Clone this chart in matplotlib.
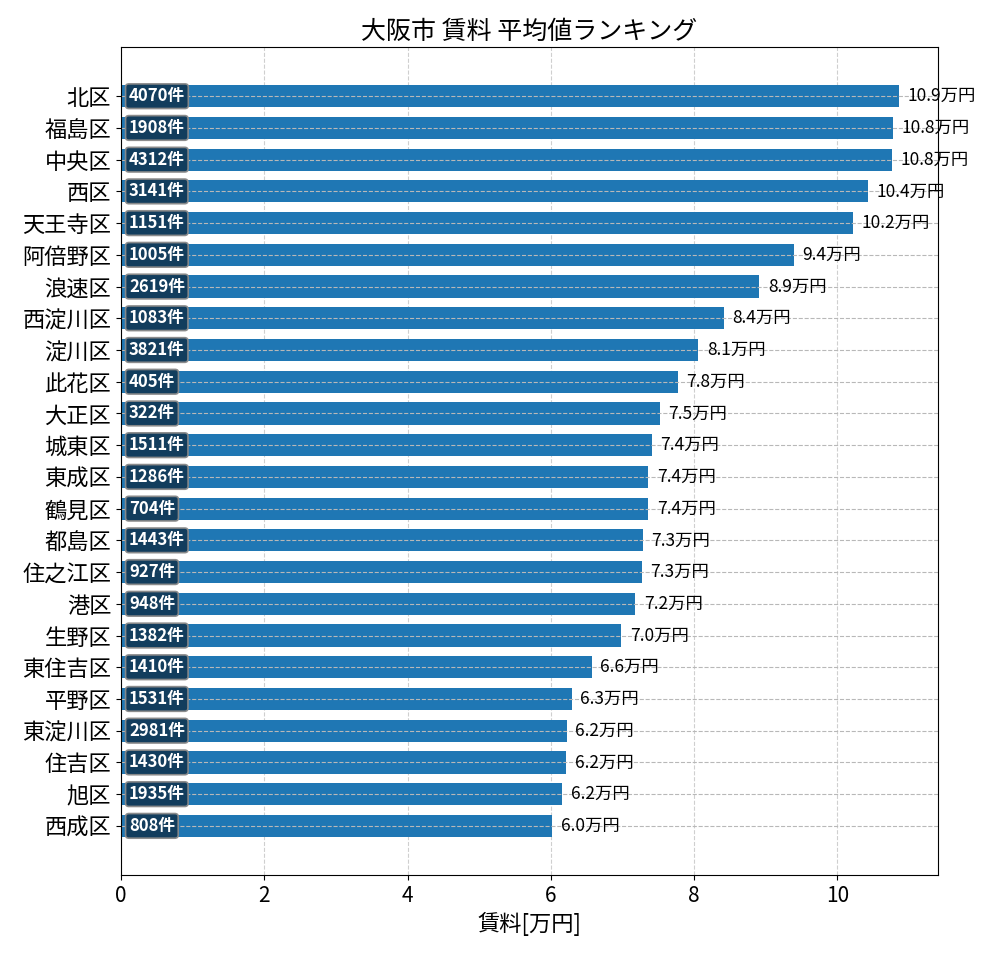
import matplotlib
matplotlib.use("Agg")
import matplotlib.pyplot as plt

plt.rcParams['font.family'] = ['Noto Sans CJK JP', 'DejaVu Sans']

# データ
wards = ["北区", "福島区", "中央区", "西区", "天王寺区", "阿倍野区", "浪速区", "西淀川区",
         "淀川区", "此花区", "大正区", "城東区", "東成区", "鶴見区", "都島区", "住之江区",
         "港区", "生野区", "東住吉区", "平野区", "東淀川区", "住吉区", "旭区", "西成区"]
rents = [10.86, 10.77, 10.76, 10.42, 10.22, 9.39, 8.91, 8.41,
         8.06, 7.77, 7.52, 7.41, 7.36, 7.36, 7.28, 7.27,
         7.18, 6.98, 6.57, 6.29, 6.22, 6.21, 6.16, 6.02]
counts = [4070, 1908, 4312, 3141, 1151, 1005, 2619, 1083,
          3821, 405, 322, 1511, 1286, 704, 1443, 927,
          948, 1382, 1410, 1531, 2981, 1430, 1935, 808]

fig = plt.figure(figsize=(10, 9.6), dpi=100)
ax = fig.add_axes([0.121, 0.0885, 0.817, 0.8625])

y = list(range(len(wards)))
ax.barh(y, rents, height=0.7, color='#1f77b4', zorder=2)

ax.set_axisbelow(True)
ax.grid(axis='x', linestyle='--', alpha=0.7, color='#bbbbbb')
for yi in y:
    ax.axhline(yi, linestyle='--', color='#b8b8b8', linewidth=0.8, zorder=2.5)

# 件数ラベル
for yi, c in zip(y, counts):
    ax.text(0.11, yi, f"{c}件", ha='left', va='center', color='white',
            fontsize=12, fontweight='bold', zorder=4,
            bbox=dict(boxstyle='round,pad=0.2', facecolor='#123a58',
                      edgecolor='#8a8a8a', linewidth=1.2, alpha=0.95))

# 賃料ラベル
for yi, v in zip(y, rents):
    ax.text(v + 0.12, yi, f"{v:.1f}万円", ha='left', va='center', fontsize=12.5, zorder=4)

ax.set_yticks(y)
ax.set_yticklabels(wards, fontsize=16)
ax.set_ylim(len(wards) - 1 + 1.55, -1.55)
ax.set_xlim(0, max(rents) * 1.05)
ax.tick_params(axis='x', labelsize=15)
ax.set_xlabel("賃料[万円]", fontsize=16)
ax.set_title("大阪市 賃料 平均値ランキング", fontsize=18)

fig.savefig("out.png", dpi=100)
